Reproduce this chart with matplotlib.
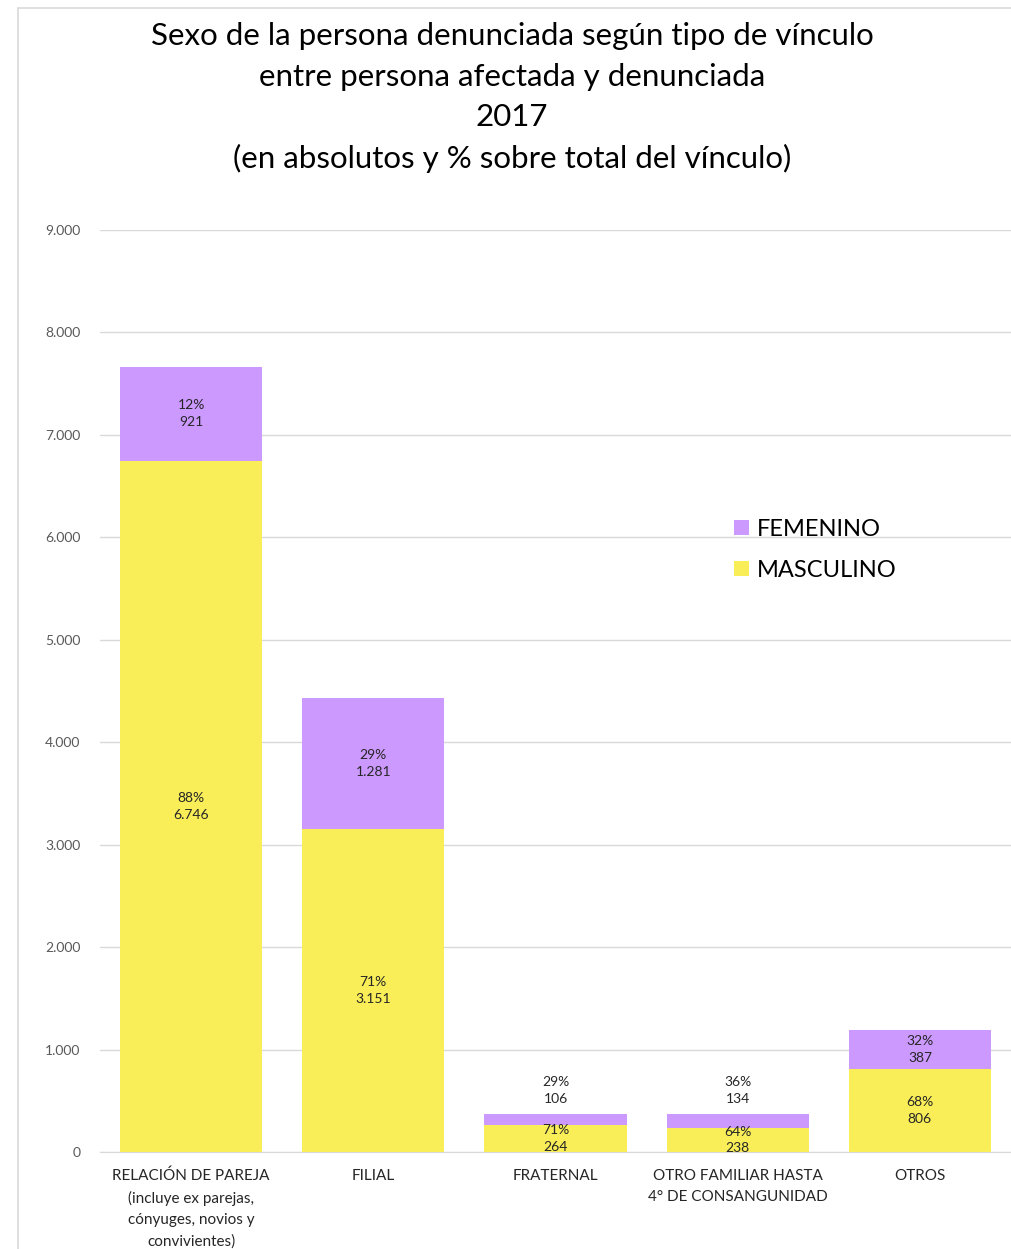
import numpy as np
import matplotlib
matplotlib.use("Agg")
import matplotlib.pyplot as plt
from matplotlib.patches import Rectangle

plt.rcParams['font.family'] = ['Lato', 'DejaVu Sans']

categorias = ["RELACIÓN DE PAREJA\n(incluye ex parejas,\ncónyuges, novios y\nconvivientes)",
              "FILIAL", "FRATERNAL",
              "OTRO FAMILIAR HASTA\n4° DE CONSANGUNIDAD", "OTROS"]
masculino = [6746, 3151, 264, 238, 806]
femenino = [921, 1281, 106, 134, 387]
pct_masc = [88, 71, 71, 64, 68]
pct_fem = [12, 29, 29, 36, 32]
# bars too thin to hold the label -> label goes above the bar
etiqueta_arriba = [False, False, True, True, False]

c_masc = "#F9EE58"
c_fem = "#CC99FF"


def miles(v):
    return f"{int(v):,}".replace(",", ".")


fig = plt.figure(figsize=(10.12, 12.49), dpi=100)
ax = fig.add_axes([100 / 1012, 97 / 1249, 911 / 1012, 922 / 1249])

x = np.arange(len(categorias))
ancho = 0.78
b1 = ax.bar(x, masculino, ancho, color=c_masc, label="MASCULINO", zorder=3)
b2 = ax.bar(x, femenino, ancho, bottom=masculino, color=c_fem, label="FEMENINO", zorder=3)

for i in range(len(x)):
    ax.text(x[i], masculino[i] / 2, f"{pct_masc[i]}%\n{miles(masculino[i])}",
            ha="center", va="center", fontsize=10, color="#262626",
            linespacing=1.45, zorder=4)
    if etiqueta_arriba[i]:
        ax.annotate(f"{pct_fem[i]}%\n{miles(femenino[i])}",
                    (x[i], masculino[i] + femenino[i]), xytext=(0, 17),
                    textcoords="offset points", ha="center", va="center",
                    fontsize=10, color="#262626", linespacing=1.45, zorder=4)
    else:
        ax.text(x[i], masculino[i] + femenino[i] / 2,
                f"{pct_fem[i]}%\n{miles(femenino[i])}",
                ha="center", va="center", fontsize=10, color="#262626",
                linespacing=1.45, zorder=4)

ax.set_xlim(-0.5, 4.5)
ax.set_ylim(0, 9000)
ax.set_yticks(np.arange(0, 9001, 1000))
ax.set_yticklabels([miles(v) for v in np.arange(0, 9001, 1000)],
                   fontsize=10, color="#595959")
ax.set_xticks(x)
ax.set_xticklabels(categorias, fontsize=11, color="#262626", linespacing=1.65)
ax.tick_params(axis="both", length=0)
ax.tick_params(axis="x", pad=12)
ax.tick_params(axis="y", pad=14)
ax.grid(axis="y", color="#D9D9D9", linewidth=1, zorder=0)
for s in ["top", "right", "left"]:
    ax.spines[s].set_visible(False)
ax.spines["bottom"].set_color("#D9D9D9")

h, l = ax.get_legend_handles_labels()
ax.legend(h[::-1], l[::-1], loc="upper left", bbox_to_anchor=(0.673, 0.71),
          frameon=False, fontsize=17, handlelength=0.6, handleheight=0.6,
          handletextpad=0.35, labelspacing=0.85)

fig.text(0.506, 0.982,
         "Sexo de la persona denunciada según tipo de vínculo\n"
         "entre persona afectada y denunciada\n2017\n"
         "(en absolutos y % sobre total del vínculo)",
         ha="center", va="top", fontsize=22.5, linespacing=1.53, color="black")

fig.patches.append(Rectangle((18 / 1012, -0.01), 1.0, (1249 - 8) / 1249 + 0.01,
                             transform=fig.transFigure, fill=False,
                             edgecolor="#D9D9D9", linewidth=1.2))

fig.savefig("out.png", dpi=100)
